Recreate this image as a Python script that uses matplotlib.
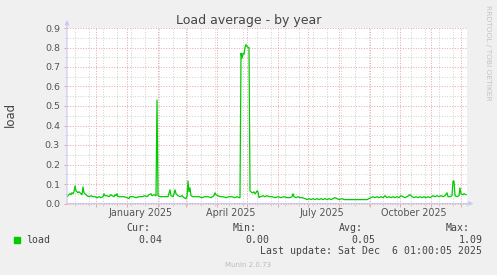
import numpy as np
import pandas as pd
import matplotlib
matplotlib.use('Agg')
import matplotlib.pyplot as plt
import matplotlib.dates as mdates
from matplotlib.patches import Rectangle
from matplotlib.ticker import MultipleLocator, FixedLocator, NullFormatter, FormatStrFormatter
from matplotlib.transforms import blended_transform_factory

# graph window: 400 days ending early Dec 2025
start = pd.Timestamp('2024-11-02 12:00')
span_days = 400

# days since start, load average
day = [0, 1, 2, 3, 4, 5, 6, 7, 8, 9, 10, 11, 12, 13, 14, 15, 16, 17, 18, 19,
       20, 22, 24, 26, 28, 30, 32, 34, 36, 37, 38, 40, 42, 44, 45, 47, 48, 49,
       50, 51, 54, 57, 60, 62, 63, 66, 69, 72, 75, 78, 80, 82, 84, 85, 87, 89,
       90, 91, 93, 96, 99, 101, 103, 104, 106, 107, 108, 109, 111, 113, 115,
       117, 119, 120, 121, 122, 123, 124, 126, 129, 132, 135, 138, 141, 144,
       147, 148, 149, 151, 153, 156, 159, 162, 165, 168, 170, 172, 173, 174,
       175, 176, 177, 178, 179, 180, 181, 182, 183, 184, 185, 186, 187, 188,
       189, 190, 191, 192, 193, 194, 196, 198, 200, 202, 205, 208, 211, 214,
       217, 220, 223, 225, 226, 227, 229, 231, 233, 235, 238, 240, 242, 244,
       246, 248, 250, 252, 254, 256, 258, 260, 262, 264, 266, 268, 270, 272,
       275, 277, 280, 284, 288, 292, 296, 300, 302, 304, 306, 308, 310, 312,
       314, 316, 318, 320, 322, 324, 326, 328, 330, 332, 334, 336, 338, 340,
       343, 345, 347, 349, 351, 353, 355, 357, 359, 361, 363, 366, 368, 370,
       372, 374, 376, 378, 380, 381, 383, 385, 386, 387, 388, 390, 392, 393,
       394, 396, 397, 399]
load = [0.035, 0.04, 0.045, 0.05, 0.045, 0.055, 0.05, 0.06, 0.09, 0.065,
        0.06, 0.055, 0.06, 0.055, 0.05, 0.045, 0.085, 0.055, 0.05, 0.045,
        0.04, 0.035, 0.04, 0.035, 0.035, 0.03, 0.035, 0.03, 0.035, 0.05, 0.04,
        0.04, 0.035, 0.045, 0.04, 0.035, 0.045, 0.04,
        0.05, 0.035, 0.035, 0.035, 0.03, 0.025, 0.035, 0.035, 0.03, 0.035,
        0.035, 0.04, 0.035, 0.045, 0.05, 0.04, 0.045, 0.04,
        0.53, 0.04, 0.035, 0.035, 0.035, 0.035, 0.07, 0.04, 0.035, 0.05, 0.07,
        0.05, 0.04, 0.035, 0.04,
        0.03, 0.025, 0.035, 0.115, 0.06, 0.08, 0.04, 0.035, 0.035, 0.035,
        0.03, 0.035, 0.035, 0.03,
        0.04, 0.055, 0.045, 0.04, 0.035, 0.035, 0.03, 0.035, 0.035, 0.03,
        0.035, 0.03, 0.03, 0.77,
        0.745, 0.77, 0.765, 0.80, 0.815, 0.805, 0.80, 0.80, 0.065, 0.06,
        0.055, 0.055, 0.06, 0.05,
        0.055, 0.065, 0.06, 0.03, 0.035, 0.035, 0.04, 0.035, 0.04, 0.035,
        0.035, 0.03, 0.035, 0.03,
        0.035, 0.03, 0.03, 0.035, 0.05, 0.035, 0.03, 0.035, 0.03, 0.03, 0.025,
        0.02, 0.025, 0.02,
        0.025, 0.02, 0.025, 0.02, 0.025, 0.02, 0.025, 0.02, 0.025, 0.02,
        0.025, 0.03, 0.025, 0.02,
        0.025, 0.02, 0.02, 0.02, 0.02, 0.02, 0.02, 0.02, 0.025, 0.03, 0.035,
        0.03, 0.035, 0.03,
        0.035, 0.03, 0.04, 0.03, 0.035, 0.03, 0.035, 0.03, 0.035, 0.03, 0.04,
        0.035, 0.03, 0.035,
        0.045, 0.035, 0.03, 0.035, 0.03, 0.035, 0.03, 0.035, 0.03, 0.035,
        0.03, 0.04, 0.035, 0.04,
        0.035, 0.04, 0.035, 0.04, 0.055, 0.035, 0.035, 0.04, 0.115, 0.115,
        0.04, 0.035, 0.04, 0.08,
        0.05, 0.045, 0.05, 0.045]

label_text = ['January 2025', 'April 2025', 'July 2025', 'October 2025']
label_date = ['2025-01-15', '2025-04-15', '2025-07-15', '2025-10-15']

stat_names = ['Cur:', 'Min:', 'Avg:', 'Max:']
stat_values = ['0.04', '0.00', '0.05', '1.09']
last_update = 'Last update: Sat Dec  6 01:00:05 2025'

W, H = 497, 275
green = '#00cc00'
txt = '#555555'

fig = plt.figure(figsize=(W / 100, H / 100), dpi=100, facecolor='#f0f0f0')
ax = fig.add_axes([67 / W, 1 - 203.5 / H, 400 / W, 175.5 / H])
ax.set_facecolor('white')

dates = start + pd.to_timedelta(day, unit='D')
ax.plot(dates, load, color=green, lw=0.9, zorder=3)
ax.set_xlim(start, start + pd.Timedelta(days=span_days))
ax.set_ylim(0, 0.9)

ax.xaxis.set_major_locator(mdates.MonthLocator())
minor = pd.date_range('2024-11-10', start + pd.Timedelta(days=span_days), freq='14D')
ax.xaxis.set_minor_locator(FixedLocator(mdates.date2num(minor)))
ax.xaxis.set_major_formatter(NullFormatter())
ax.xaxis.set_minor_formatter(NullFormatter())
ax.yaxis.set_major_locator(MultipleLocator(0.1))
ax.yaxis.set_minor_locator(MultipleLocator(0.05))
ax.yaxis.set_major_formatter(FormatStrFormatter('%.1f'))

ax.grid(which='major', color='#e8a8a8', ls=(0, (1, 1.6)), lw=0.72)
ax.grid(which='minor', color='#d2d2d2', ls=(0, (1, 1.6)), lw=0.72)
for gl in ax.get_ygridlines():
    gl.set_clip_on(False)
ax.set_axisbelow(True)

ax.tick_params(which='major', length=2.2, width=0.72, color='#e8a8a8',
               labelsize=6.8, labelcolor=txt)
ax.tick_params(which='minor', length=1.4, width=0.72, color='#d2d2d2')
ax.tick_params(axis='y', pad=2.9)

for s in ax.spines.values():
    s.set_visible(False)
axis_col = '#c8c8f4'
ax.annotate('', xy=(0, 1.045), xytext=(0, 0), xycoords='axes fraction',
            arrowprops=dict(arrowstyle='-|>', color=axis_col, lw=0.8,
                            mutation_scale=6, shrinkA=0, shrinkB=0))
ax.annotate('', xy=(1.016, 0), xytext=(0, 0), xycoords='axes fraction',
            arrowprops=dict(arrowstyle='-|>', color=axis_col, lw=0.8,
                            mutation_scale=6, shrinkA=0, shrinkB=0))

tr = blended_transform_factory(ax.transData, fig.transFigure)
for lab, d in zip(label_text, label_date):
    ax.text(mdates.date2num(pd.Timestamp(d)), 1 - 216 / H, lab, transform=tr,
            ha='center', va='baseline', fontsize=6.9, color=txt)

def px(x, y):
    return x / W, 1 - y / H

fig.text(*px(249, 24.3), 'Load average - by year', ha='center', va='baseline',
         fontsize=9, color='#444444')
fig.text(*px(10, 114.5), 'load', rotation=90, ha='center', va='center',
         fontsize=8.4, color='#444444')
fig.text(*px(488, 53), 'RRDTOOL / TOBI OETIKER', rotation=270, ha='center',
         va='center', fontsize=5.4, color='#c4c4c4')

mono = dict(family='DejaVu Sans Mono', fontsize=7.15, color='#444444', va='baseline')
fig.patches.append(Rectangle(px(14, 242.5), 6 / W, 5.5 / H,
                             transform=fig.transFigure, color=green))
fig.text(*px(26.5, 242.7), 'load', **mono)
name_right = [150, 256.7, 362.7, 470]
for name, val, xr in zip(stat_names, stat_values, name_right):
    fig.text(*px(xr, 231), name, ha='right', **mono)
    fig.text(*px(xr + 12.5, 242.7), val, ha='right', **mono)
fig.text(*px(482.5, 254.3), last_update, ha='right', **mono)
fig.text(*px(248, 266.7), 'Munin 2.0.73', ha='center', va='baseline',
         fontsize=5, color='#bbbbbb')

fig.savefig('out.png', dpi=100, facecolor=fig.get_facecolor())
